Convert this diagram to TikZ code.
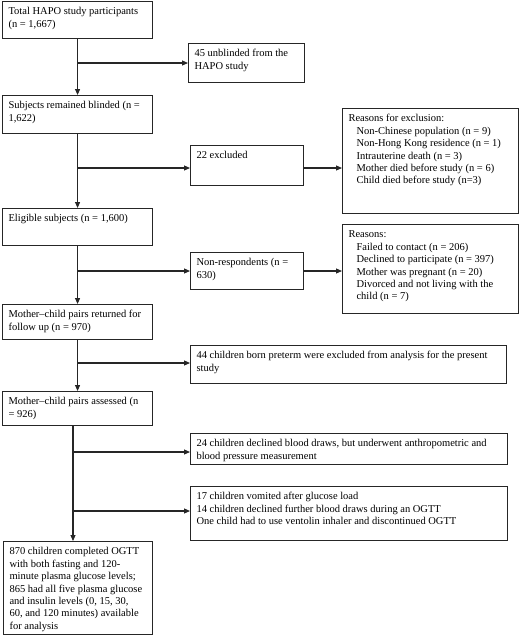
\documentclass[tikz,border=0pt]{standalone}
\usepackage{fontspec}
\setmainfont{Liberation Serif}
\usetikzlibrary{arrows.meta}
\newcommand\bt[3]{\parbox[c][#2][t]{#1}{\leftskip=6pt\rightskip=0pt plus 1fil\parindent=0pt\rule{0pt}{13.3pt}#3}}
\newcommand\ind{\hspace*{8pt}}
\begin{document}
\begin{tikzpicture}[x=1pt,y=-1pt,
  font=\fontsize{10.5}{12.4}\selectfont,
  bx/.style={draw=black!85, line width=1.1pt, inner sep=0pt, anchor=north west},
  arr/.style={draw=black!85, line width=1.1pt, -{Triangle[length=6pt,width=5pt]}}]
\useasboundingbox (0,0) rectangle (520,635);
\fill[white] (0,0) rectangle (520,635);
% main column
\node[bx] (n1) at (2,1) {\bt{150pt}{37pt}{Total HAPO study participants\\(n = 1,667)}};
\node[bx] (n2) at (2,95) {\bt{150pt}{38pt}{Subjects remained blinded (n =\\1,622)}};
\node[bx] (n3) at (2,208) {\bt{150pt}{37pt}{Eligible subjects (n = 1,600)}};
\node[bx] (n4) at (2,304) {\bt{150pt}{35pt}{Mother--child pairs returned for\\follow up (n = 970)}};
\node[bx] (n5) at (2,391) {\bt{150pt}{34pt}{Mother--child pairs assessed (n\\= 926)}};
\node[bx] (n6) at (3,541) {\bt{149pt}{93pt}{870 children completed OGTT\\with both fasting and 120-\\minute plasma glucose levels;\\865 had all five plasma glucose\\and insulin levels (0, 15, 30,\\60, and 120 minutes) available\\for analysis}};
% side boxes
\node[bx] (u) at (188,43) {\bt{116pt}{39pt}{45 unblinded from the\\HAPO study}};
\node[bx] (ex) at (190,145) {\bt{113pt}{40pt}{22 excluded}};
\node[bx] (r1) at (342,108) {\bt{176pt}{105pt}{Reasons for exclusion:\\\ind Non-Chinese population (n = 9)\\\ind Non-Hong Kong residence (n = 1)\\\ind Intrauterine death (n = 3)\\\ind Mother died before study (n = 6)\\\ind Child died before study (n=3)}};
\node[bx] (nr) at (190,252) {\bt{113pt}{37pt}{Non-respondents (n =\\630)}};
\node[bx] (r2) at (342,224) {\bt{176pt}{89pt}{Reasons:\\\ind Failed to contact (n = 206)\\\ind Declined to participate (n = 397)\\\ind Mother was pregnant (n = 20)\\\ind Divorced and not living with the\\\ind child (n = 7)}};
\node[bx] (p44) at (190,345) {\bt{316pt}{38pt}{44 children born preterm were excluded from analysis for the present\\study}};
\node[bx] (d24) at (190,433) {\bt{317pt}{31pt}{24 children declined blood draws, but underwent anthropometric and\\blood pressure measurement}};
\node[bx] (v17) at (190,486) {\bt{317pt}{54pt}{17 children vomited after glucose load\\14 children declined further blood draws during an OGTT\\One child had to use ventolin inhaler and discontinued OGTT}};
% junctions
\coordinate (j1) at (77,63);
\coordinate (j2) at (77,168);
\coordinate (j3) at (77,271);
\coordinate (j4) at (77,363);
\coordinate (xl) at (73,0);
\coordinate (j5) at (73,452);
\coordinate (j6) at (73,511);
% vertical flow
\draw[arr] (n1.south) -- (n2.north);
\draw[arr] (n2.south) -- (n3.north);
\draw[arr] (n3.south) -- (n4.north);
\draw[arr] (n4.south) -- (n5.north);
\draw[arr] (n5.south -| xl) -- (n6.north -| xl);
% branches
\draw[arr] (j1) -- (j1 -| u.west);
\draw[arr] (j2) -- (j2 -| ex.west);
\draw[arr] (j2 -| ex.east) -- (j2 -| r1.west);
\draw[arr] (j3) -- (j3 -| nr.west);
\draw[arr] (j3 -| nr.east) -- (j3 -| r2.west);
\draw[arr] (j4) -- (j4 -| p44.west);
\draw[arr] (j5) -- (j5 -| d24.west);
\draw[arr] (j6) -- (j6 -| v17.west);
\end{tikzpicture}
\end{document}
